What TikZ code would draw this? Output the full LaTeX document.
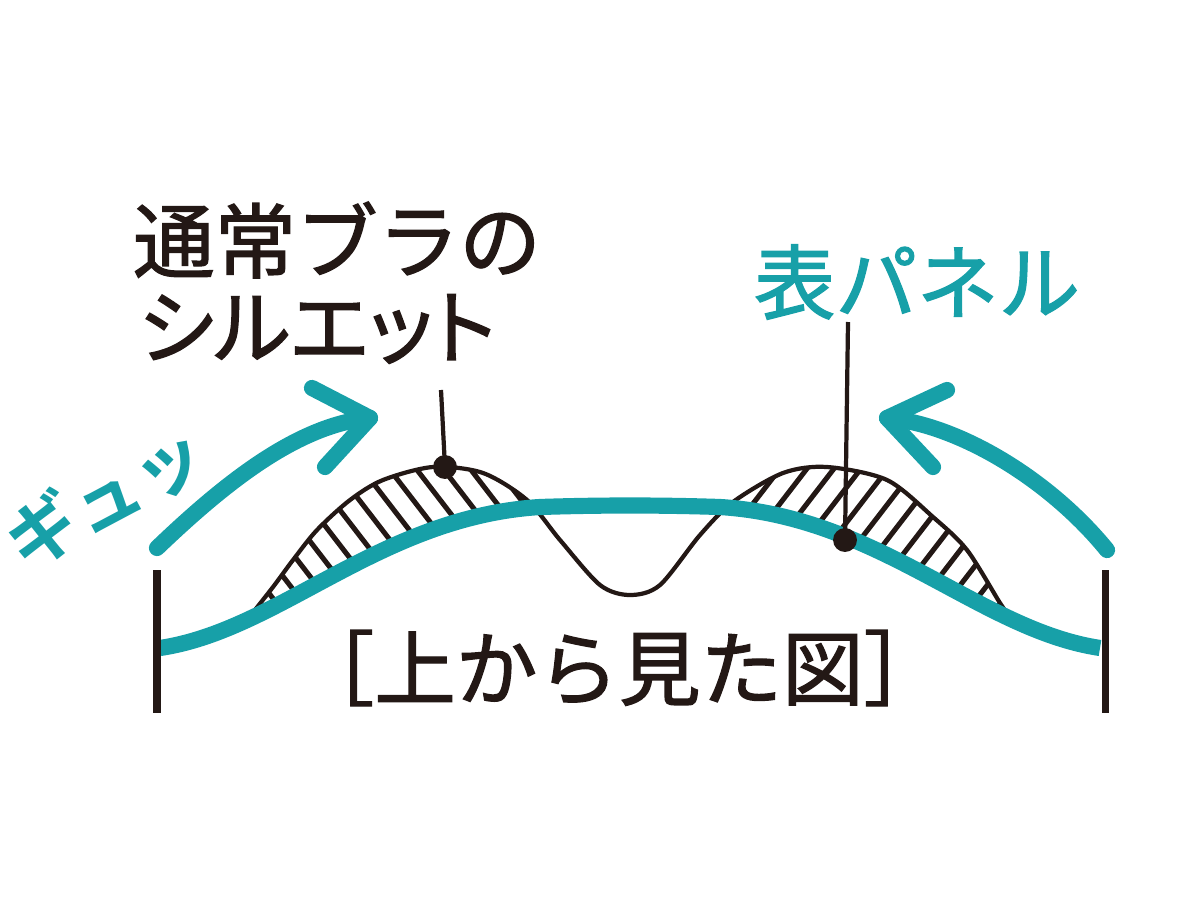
\documentclass[tikz,border=0pt]{standalone}
\usepackage{fontspec}
\newfontfamily\jp{Noto Sans CJK JP}[FakeBold=1.6]
\newfontfamily\jpp{Noto Sans CJK JP}[FakeBold=1.6,RawFeature=+palt]
\newfontfamily\jpb{Noto Sans CJK JP Bold}
\definecolor{teal}{RGB}{23,160,168}
\definecolor{ink}{RGB}{35,24,21}
\begin{document}
\begin{tikzpicture}[x=0.025cm,y=-0.025cm,
  bigtext/.style={inner sep=0pt,font=\jp\fontsize{58}{64}\selectfont},
  tealline/.style={draw=teal,line width=11.5pt},
  arrowline/.style={draw=teal,line width=11.5pt,line cap=round,line join=round},
  silhouette/.style={draw=ink,line width=3pt},
  hatchline/.style={draw=ink,line width=3.6pt},
  leader/.style={draw=ink,line width=3pt},
  bar/.style={draw=ink,line width=5pt},
  dot/.style={circle,fill=ink,inner sep=0pt,minimum size=17pt}]
\useasboundingbox (0,0) rectangle (1200,900);
\def\blackpts{(247,620) (273,587) (293,560) (317,530) (350,500) (383,480) (433,467) (483,473) (527,500) (560,540) (600,585) (630,595) (660,585) (700,535) (733,502) (783,473) (827,467) (887,480) (933,517) (967,550) (1000,603) (1010,617)}
\def\tealpath{(160,648) .. controls (280,630) and (380,517) .. (540,507) .. controls (600,505) and (660,505) .. (720,507) .. controls (880,517) and (980,630) .. (1100,648)}
% hatching
\begin{scope}
  \clip plot[smooth] coordinates {\blackpts} -- (1010,900) -- (247,900) -- cycle;
  \clip (160,0) -- \tealpath -- (1100,0) -- cycle;
  \begin{scope}
    \clip (0,0) rectangle (630,900);
    \foreach \x in {124,151,...,620} \draw[hatchline] (\x,440) -- (\x+154,640);
  \end{scope}
  \begin{scope}
    \clip (630,0) rectangle (1200,900);
    \foreach \x in {640,667,...,1180} \draw[hatchline] (\x,440) -- (\x-154,640);
  \end{scope}
\end{scope}
% silhouette
\draw[silhouette] plot[smooth] coordinates {\blackpts};
% panel
\draw[tealline] \tealpath;
% bars
\draw[bar] (157,570) -- (157,713);
\draw[bar] (1105,570) -- (1105,713);
% arrows
\coordinate (la0) at (157,548);
\coordinate (lat) at (370,418);
\coordinate (la1) at (312,388);
\coordinate (la2) at (325,467);
\draw[arrowline] (la0) .. controls (230,478) and (300,425) .. (lat);
\draw[arrowline] (la1) -- (lat) -- (la2);
\coordinate (ra0) at (1107,550);
\coordinate (rat) at (887,418);
\coordinate (ra1) at (947,390);
\coordinate (ra2) at (933,467);
\draw[arrowline] (ra0) .. controls (1050,480) and (960,425) .. (rat);
\draw[arrowline] (ra1) -- (rat) -- (ra2);
% dots and leaders
\node[dot] (d1) at (445,467) {};
\node[dot] (d2) at (845,540) {};
\coordinate (t1) at (441,390);
\coordinate (t2) at (848,322);
\draw[leader] (t1) -- (d1.center);
\draw[leader] (t2) -- (d2.center);
% texts
\node[bigtext,text=ink] (l1) at (337,240) {通常ブラの};
\node[bigtext,text=ink,font=\jpp\fontsize{58}{64}\selectfont] (l2) at (317,329) {シルエット};
\node[bigtext,text=teal] (pn) at (917,282) {表パネル};
\node[bigtext,text=ink] (cap) at (619,668) {［上から見た図］};
\node[inner sep=0pt,text=teal,rotate=28,font=\jpb\fontsize{51}{55}\selectfont] (gyu) at (105,496) {ギュッ};
\end{tikzpicture}
\end{document}
